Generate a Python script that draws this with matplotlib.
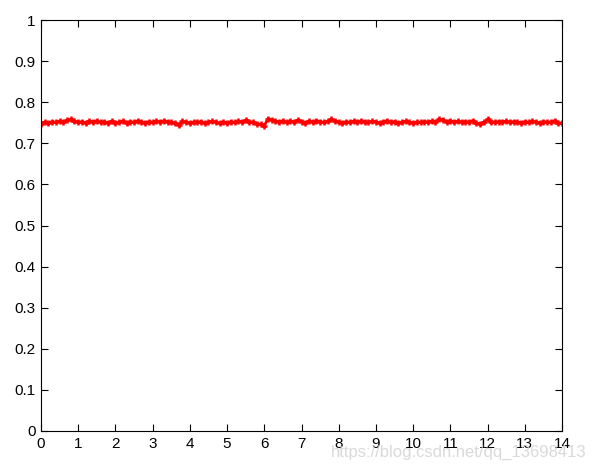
import numpy as np
import matplotlib
matplotlib.use('Agg')
import matplotlib.pyplot as plt

plt.rcParams['font.family'] = ['Liberation Sans', 'DejaVu Sans']

# values, one every 0.1 on x
x = np.arange(0, 141) / 10.0
y = [0.748, 0.752, 0.750, 0.753, 0.751, 0.754, 0.752, 0.756, 0.758, 0.754,
     0.751, 0.753, 0.750, 0.754, 0.752, 0.755, 0.751, 0.753, 0.750, 0.754,
     0.749, 0.752, 0.754, 0.750, 0.753, 0.751, 0.755, 0.752, 0.750, 0.753,
     0.751, 0.754, 0.752, 0.755, 0.753, 0.751, 0.749, 0.745, 0.754, 0.751,
     0.750, 0.752, 0.751, 0.753, 0.750, 0.752, 0.754, 0.751, 0.749, 0.752,
     0.750, 0.753, 0.751, 0.754, 0.752, 0.756, 0.753, 0.751, 0.748, 0.746,
     0.743, 0.760, 0.757, 0.754, 0.752, 0.755, 0.751, 0.754, 0.752, 0.757,
     0.753, 0.750, 0.754, 0.752, 0.755, 0.753, 0.751, 0.754, 0.758, 0.755,
     0.752, 0.750, 0.753, 0.751, 0.754, 0.752, 0.755, 0.753, 0.751, 0.754,
     0.752, 0.750, 0.753, 0.755, 0.751, 0.753, 0.750, 0.752, 0.754, 0.751,
     0.750, 0.752, 0.751, 0.753, 0.752, 0.754, 0.751, 0.759, 0.756, 0.753,
     0.755, 0.752, 0.754, 0.751, 0.753, 0.752, 0.755, 0.750, 0.747, 0.752,
     0.758, 0.753, 0.751, 0.753, 0.752, 0.754, 0.751, 0.753, 0.752, 0.750,
     0.753, 0.751, 0.754, 0.752, 0.750, 0.753, 0.751, 0.752, 0.755, 0.749,
     0.750]
xticks = list(range(0, 15))
yticks = [0, 0.1, 0.2, 0.3, 0.4, 0.5, 0.6, 0.7, 0.8, 0.9, 1]
ytick_labels = ['0', '0.1', '0.2', '0.3', '0.4', '0.5', '0.6', '0.7', '0.8', '0.9', '1']

fig = plt.figure(figsize=(5.95, 4.66), dpi=100)
ax = fig.add_axes([41/595, 1 - 431/466, (562 - 41)/595, (431 - 20)/466])
ax.plot(x, y, color='red', lw=2, marker='+', ms=5, mew=1.8)

ax.set_xlim(0, 14)
ax.set_ylim(0, 1)
ax.set_xticks(xticks)
ax.set_yticks(yticks)
ax.set_yticklabels(ytick_labels)
ax.tick_params(direction='in', top=True, right=True, length=5, width=0.8,
               labelsize=11, pad=4)
for s in ax.spines.values():
    s.set_linewidth(0.8)

# watermark
fig.text(0.985, 0.03, 'https://blog.csdn.net/qq_13698413', ha='right', va='center',
         fontsize=12, color='#d0d0d0', alpha=0.8)

fig.savefig('out.png', dpi=100)
